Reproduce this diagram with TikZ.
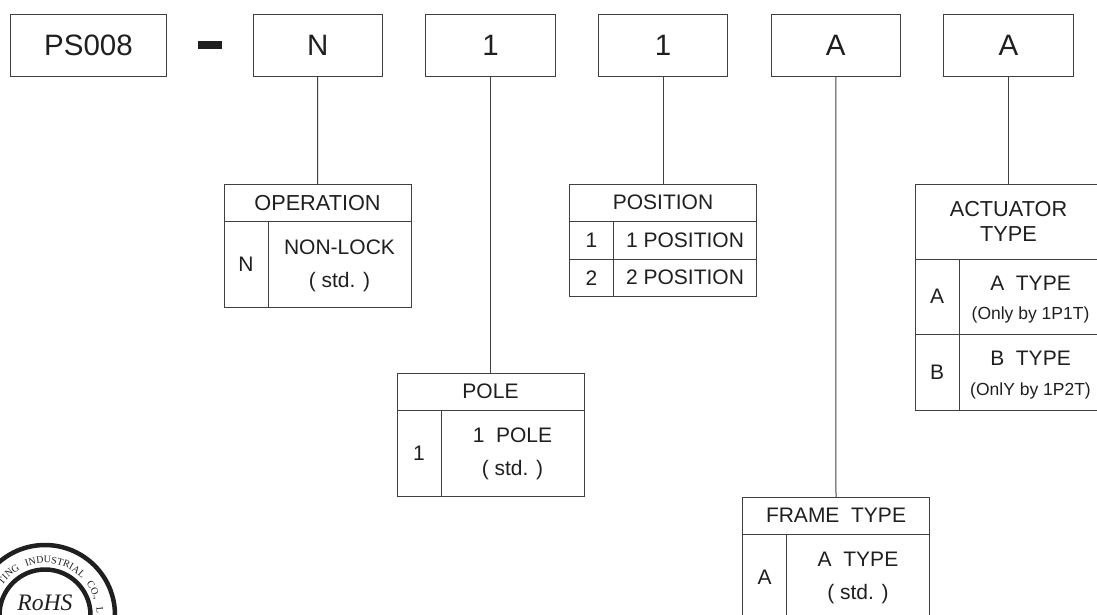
\documentclass[tikz,border=0pt]{standalone}
\usepackage{fontspec}
\setmainfont{Liberation Sans}
\newfontfamily\stampfont{Liberation Serif}
\usetikzlibrary{decorations.text}
\definecolor{linecol}{gray}{0.25}
\definecolor{inkcol}{gray}{0.12}
\newcommand{\partfont}{\fontsize{29.5}{30}\selectfont}
\newcommand{\cellfont}{\fontsize{21}{33}\selectfont}
\newcommand{\widefont}{\fontsize{21.7}{33}\selectfont}
\newcommand{\notefont}{\fontsize{17.5}{31}\selectfont}
\tikzset{
  partbox/.style={draw=linecol,line width=1pt,inner sep=0pt,outer sep=0pt,text=inkcol,font=\partfont,minimum height=62},
  headcell/.style={draw=linecol,line width=1pt,inner sep=0pt,outer sep=0pt,text=inkcol,font=\cellfont,align=center,anchor=north west,minimum width=187,minimum height=37.5},
  keycell/.style={headcell,minimum width=44},
  valcell/.style={headcell,minimum width=143},
  leadline/.style={draw=linecol,line width=1pt}
}
\begin{document}
\begin{tikzpicture}[x=1pt,y=-1pt]
            \path[use as bounding box,clip] (0,0) rectangle (1097,614);
            %part number row
            \node[partbox,minimum width=156] (ps) at (88.5,45) {PS008};
            \node[fill=inkcol,inner sep=0pt,minimum width=24,minimum height=8] (bar) at (210,45) {};
            \node[partbox,minimum width=129.5] (nbox) at (317.75,45) {N};
            \node[partbox,minimum width=129.5] (polebox) at (490.5,45) {1};
            \node[partbox,minimum width=129.5] (posbox) at (663,45) {1};
            \node[partbox,minimum width=129.5] (framebox) at (835.75,45) {A};
            \node[partbox,minimum width=129.5] (actbox) at (1008.5,45) {A};
            %operation
            \node[headcell,font=\widefont] (ophead) at (224,184) {OPERATION};
            \node[keycell,minimum height=86] (opkey) at (ophead.south west) {N};
            \node[valcell,minimum height=86] (opval) at (opkey.north east) {\rule{0pt}{18pt}NON-LOCK\\( std. )};
            %pole
            \node[headcell] (polehead) at (397,373) {POLE};
            \node[keycell,minimum height=86] (polekey) at (polehead.south west) {1};
            \node[valcell,minimum height=86] (poleval) at (polekey.north east) {1\ \ POLE\\( std. )};
            %position
            \node[headcell] (poshead) at (569.5,184) {POSITION};
            \node[keycell] (poskeya) at (poshead.south west) {1};
            \node[valcell] (posvala) at (poskeya.north east) {1 POSITION};
            \node[keycell] (poskeyb) at (poskeya.south west) {2};
            \node[valcell] (posvalb) at (poskeyb.north east) {2 POSITION};
            %frame type
            \node[headcell] (framehead) at (742.5,497) {FRAME\ \ TYPE};
            \node[keycell,minimum height=86] (framekey) at (framehead.south west) {A};
            \node[valcell,minimum height=86] (frameval) at (framekey.north east) {A\ \ TYPE\\( std. )};
            %actuator type
            \node[headcell,font=\widefont,minimum height=75] (acthead) at (915,184) {ACTUATOR\\[-8pt]TYPE};
            \node[keycell,minimum height=75.5] (actkeya) at (acthead.south west) {A};
            \node[valcell,minimum height=75.5] (actvala) at (actkeya.north east) {\rule{0pt}{20pt}A\ \ TYPE\\[-3.5pt]\notefont (Only by 1P1T)};
            \node[keycell,minimum height=75.5] (actkeyb) at (actkeya.south west) {B};
            \node[valcell,minimum height=75.5] (actvalb) at (actkeyb.north east) {\rule{0pt}{20pt}B\ \ TYPE\\[-3.5pt]\notefont (OnlY by 1P2T)};
            %leads from the part number down to each table
            \draw[leadline] (nbox) -- (ophead);
            \draw[leadline] (polebox) -- (polehead);
            \draw[leadline] (posbox) -- (poshead);
            \draw[leadline] (framebox) -- (framehead);
            \draw[leadline] (actbox) -- (acthead);
            %stamp, cut by the page
            \coordinate (stamp) at (45,615);
            \begin{scope}[shift={(stamp)},y=1pt]
              \draw[inkcol,line width=4.5pt] (0,0) circle[radius=70];
              \draw[inkcol,line width=4.5pt] (0,0) circle[radius=45.5];
              \path[decorate,decoration={text along path,text color=inkcol,text align={fit to path stretching spaces},
                text={|\stampfont\fontsize{10}{10}\selectfont|TING INDUSTRIAL CO., L}}]
                (145:52) arc[start angle=145,end angle=2,radius=52];
              \node[text=inkcol,font={\stampfont\itshape\fontsize{23.6}{24}\selectfont}] (rohs) at (0,12) {RoHS};
            \end{scope}
\end{tikzpicture}
\end{document}
